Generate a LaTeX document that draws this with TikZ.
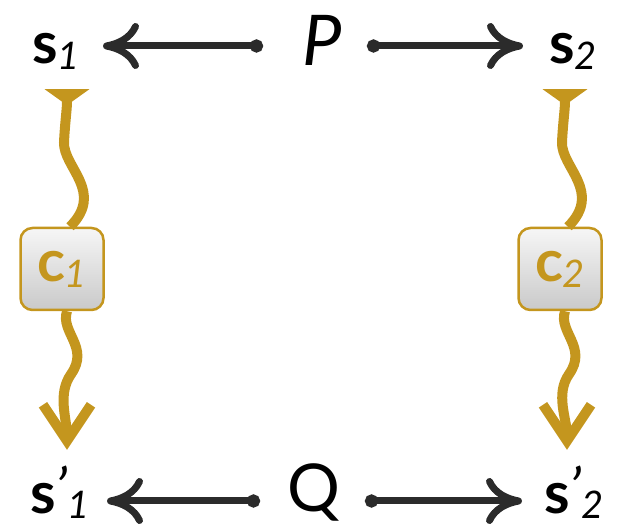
\documentclass[tikz,border=0pt]{standalone}
\usepackage{fontspec}
\setmainfont{Lato}
\usepackage{xcolor}
\usetikzlibrary{arrows.meta}
\definecolor{gold}{HTML}{C4961E}
\definecolor{inkk}{HTML}{2B2B2B}
\newcommand{\lab}[2]{\textbf{#1}\raisebox{-6pt}{\fontsize{38}{38}\selectfont\itshape #2}}
\newcommand{\labp}[2]{\textbf{#1}\raisebox{4pt}{\itshape\symbol{"0027}}\raisebox{-5pt}{\fontsize{38}{38}\selectfont\itshape #2}}
\tikzset{
  lbl/.style={inner sep=0pt, font=\fontsize{58}{58}\selectfont, text height=36pt, text depth=0pt},
  big/.style={lbl, font=\fontsize{70}{70}\selectfont},
  cbox/.style={rectangle, rounded corners=12pt, draw=gold, line width=2.5pt,
               top color=gray!7, bottom color=gray!42, minimum width=83pt, minimum height=82pt,
               inner sep=0pt, font=\fontsize{58}{58}\selectfont, text=gold},
  fl/.style={{Circle[length=13pt]}-{Computer Modern Rightarrow[length=36pt,width=46pt]},
             line width=7pt, draw=inkk},
  wiret/.style={{Triangle[reversed,width=44pt,length=16pt]}-, line width=10pt, draw=gold},
  wireb/.style={-{Straight Barb[length=36pt,width=48pt]}, line width=10pt, draw=gold},
}
\begin{document}
\begin{tikzpicture}[x=1pt,y=1pt]
  \useasboundingbox (0,0) rectangle (621,527);
  % top row
  \node[lbl] (s1) at (56,481) {\lab{s}{1}};
  \node[big, text height=40pt] (P) at (322,481) {\itshape P};
  \node[lbl] (s2) at (573,481) {\lab{s}{2}};
  % bottom row
  \node[lbl, text height=26pt] (s1p) at (60,26) {\labp{s}{1}};
  \node[big, text height=22pt, font=\fontsize{66}{66}\selectfont] (Q) at (314,26) {Q};
  \node[lbl, text height=26pt] (s2p) at (574,26) {\labp{s}{2}};
  % boxes
  \node[cbox] (c1) at (62,258) {\lab{c}{1}};
  \node[cbox] (c2) at (560,258) {\lab{c}{2}};
  % horizontal arrows
  \draw[fl, shorten <=59pt, shorten >=47pt] (P.center) -- (s1.center);
  \draw[fl, shorten <=45pt, shorten >=50pt] (P.center) -- (s2.center);
  \draw[fl, shorten <=54pt, shorten >=47pt] (Q.center) -- (s1p.center);
  \draw[fl, shorten <=51pt, shorten >=52pt] (Q.center) -- (s2p.center);
  % wavy connectors
  \draw[wiret] ([xshift=11pt,yshift=-25pt]s1.south) .. controls +(0,-20) and +(1,20) .. ++(-3,-53)
     .. controls +(-1,-25) and +(35,35) .. ([xshift=8pt]c1.north);
  \draw[wireb] ([xshift=5pt]c1.south) .. controls +(-7,-21) and +(19,27) .. ++(4,-63)
     .. controls +(-14,-20) and +(0,31) .. ([xshift=7pt,yshift=38pt]s1p.north);
  \draw[wiret] ([xshift=-8pt,yshift=-25pt]s2.south) .. controls +(0,-20) and +(1,20) .. ++(-3,-53)
     .. controls +(-1,-25) and +(35,35) .. ([xshift=8pt]c2.north);
  \draw[wireb] ([xshift=5pt]c2.south) .. controls +(-7,-21) and +(19,27) .. ++(4,-63)
     .. controls +(-14,-20) and +(0,31) .. ([xshift=-7pt,yshift=38pt]s2p.north);
\end{tikzpicture}
\end{document}
